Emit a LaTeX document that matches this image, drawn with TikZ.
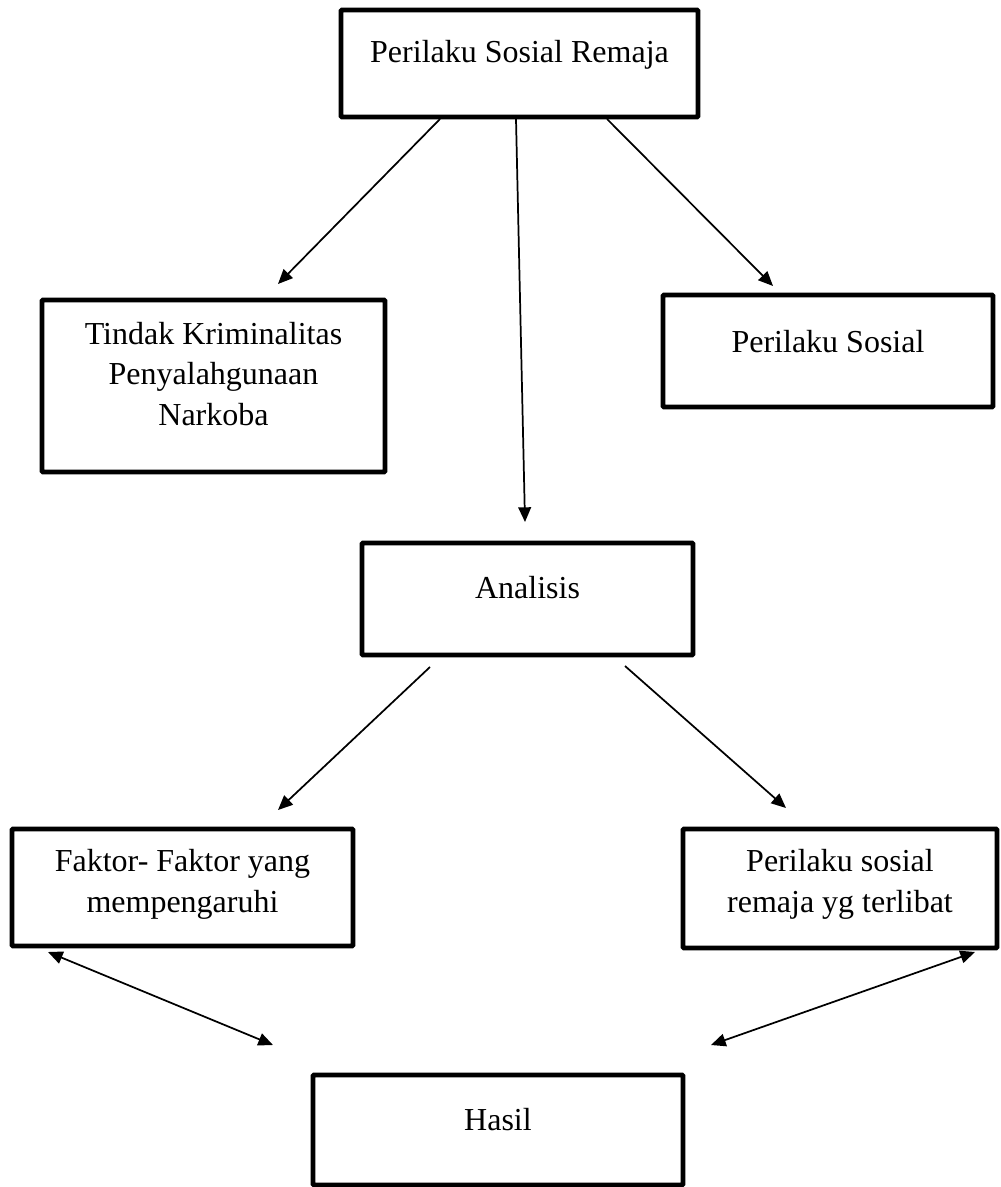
\documentclass[tikz,border=0pt]{standalone}
\usepackage{fontspec}
\setmainfont{Liberation Serif}
\usetikzlibrary{arrows.meta}
\begin{document}
\begin{tikzpicture}[x=0.75pt,y=-0.75pt,
  box/.style={draw, line width=3.7pt, inner sep=0pt, rectangle, rounded corners=0.8pt},
  lbl/.style={font=\fontsize{24}{30.5}\selectfont, align=center, inner sep=0pt},
  arr/.style={line width=1.3pt, -{Triangle[length=11pt,width=9.5pt]}},
  darr/.style={line width=1.3pt, {Triangle[length=11pt,width=9.5pt]}-{Triangle[length=11pt,width=9.5pt]}}]
\useasboundingbox (0,0) rectangle (1000,1187);
% boxes
\node[box, minimum width=267.75pt, minimum height=80.25pt] (b1) at (519.5,63.5) {};
\node[box, minimum width=257.25pt, minimum height=129pt] (b2) at (213.5,386) {};
\node[box, minimum width=247.5pt, minimum height=84pt] (b3) at (828,351) {};
\node[box, minimum width=248.25pt, minimum height=84pt] (b4) at (527.5,599) {};
\node[box, minimum width=255.75pt, minimum height=87.75pt] (b5) at (182.5,887.5) {};
\node[box, minimum width=235.5pt, minimum height=89.25pt] (b6) at (840,888.5) {};
\node[box, minimum width=277.5pt, minimum height=82.5pt] (b7) at (498,1130) {};
% texts
\node[lbl, anchor=base] (t1) at (519.5,63) {Perilaku Sosial Remaja};
\node[lbl] (t2) at (213.5,374) {Tindak Kriminalitas\\Penyalahgunaan\\Narkoba};
\node[lbl, anchor=base] (t3) at (828,352) {Perilaku Sosial};
\node[lbl, anchor=base] (t4) at (527.5,598) {Analisis};
\node[lbl] (t5) at (182.5,884.5) {Faktor- Faktor yang\\mempengaruhi};
\node[lbl] (t6) at (840,884.5) {Perilaku sosial\\remaja yg terlibat};
\node[lbl, anchor=base] (t7) at (498,1130) {Hasil};
% arrow end points
\coordinate (a1s) at (440,119);
\coordinate (a1e) at (278,284);
\coordinate (a2s) at (516,119);
\coordinate (a2e) at (525,522);
\coordinate (a3s) at (607,119);
\coordinate (a3e) at (773,286);
\coordinate (a4s) at (430,667);
\coordinate (a4e) at (278,810);
\coordinate (a5s) at (625,666);
\coordinate (a5e) at (786,808);
\coordinate (d1s) at (48,952);
\coordinate (d1e) at (273,1045);
\coordinate (d2s) at (975,952);
\coordinate (d2e) at (711,1045);
% connectors
\draw[arr] (a1s) -- (a1e);
\draw[arr] (a2s) -- (a2e);
\draw[arr] (a3s) -- (a3e);
\draw[arr] (a4s) -- (a4e);
\draw[arr] (a5s) -- (a5e);
\draw[darr] (d1s) -- (d1e);
\draw[darr] (d2s) -- (d2e);
\end{tikzpicture}
\end{document}
